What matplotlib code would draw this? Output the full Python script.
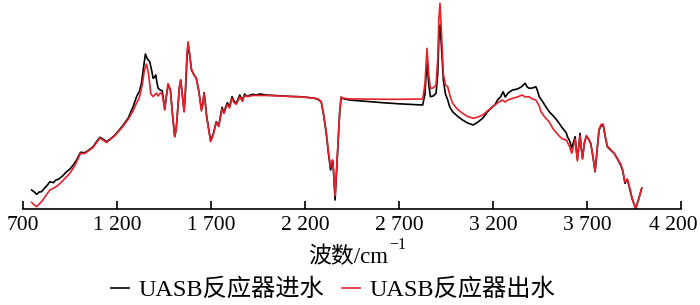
"""
UASB 반응기 진수/출수 FTIR 스펙트럼 재현.
출력: out.png (700x305)
"""

import matplotlib
matplotlib.use("Agg")
import matplotlib.pyplot as plt
import matplotlib.transforms as mtransforms
from matplotlib.ticker import FuncFormatter

plt.rcParams["font.family"] = ["Liberation Serif", "DejaVu Serif", "Noto Sans CJK SC"]

# 진수 (black)
in_wave = [
    746, 760, 773, 786, 799, 815, 830, 843, 861, 875, 888, 910, 932, 950, 967, 985,
    1006, 1029, 1050, 1073, 1090, 1109, 1125, 1144, 1165, 1189, 1225, 1259, 1285, 1304,
    1320, 1330, 1340, 1351, 1362, 1374, 1385, 1392, 1400, 1406, 1413, 1419, 1430, 1440,
    1447, 1454, 1462, 1472, 1478, 1484, 1495, 1507, 1515, 1525, 1532, 1539, 1547, 1557,
    1565, 1572, 1578, 1586, 1596, 1610, 1622, 1635, 1649, 1656, 1663, 1669, 1675, 1686,
    1698, 1712, 1728, 1741, 1752, 1759, 1769, 1778, 1787, 1799, 1806, 1812, 1822, 1835,
    1844, 1853, 1860, 1867, 1873, 1879, 1888, 1897, 1910, 1923, 1940, 1960, 1994, 2040,
    2083, 2130, 2171, 2220, 2251, 2270, 2286, 2298, 2313, 2325, 2336, 2342, 2348, 2354,
    2360, 2366, 2375, 2384, 2392, 2400, 2437, 2500, 2560, 2613, 2700, 2780, 2826, 2838,
    2849, 2858, 2867, 2882, 2897, 2906, 2912, 2918, 2925, 2936, 2947, 2959, 2970, 2985,
    3010, 3038, 3065, 3095, 3120, 3145, 3170, 3198, 3210, 3224, 3240, 3254, 3265, 3280,
    3304, 3330, 3350, 3371, 3382, 3392, 3410, 3428, 3437, 3446, 3465, 3481, 3500, 3516,
    3535, 3552, 3565, 3578, 3590, 3596, 3608, 3619, 3628, 3637, 3643, 3649, 3656, 3663,
    3669, 3676, 3686, 3697, 3708, 3720, 3732, 3743, 3752, 3764, 3775, 3786, 3797, 3808,
    3825, 3844, 3862, 3879, 3890, 3902, 3908, 3915, 3925, 3940, 3959, 3975, 3991,
]
in_val = [
    19, 17, 14.7, 17, 17.3, 21, 24, 27.3, 26.3, 29, 29.7, 33, 37.3, 40, 44, 49,
    56.7, 56.3, 59, 62.3, 67, 71.7, 70, 67.3, 70, 74, 82, 90.7, 102, 112.3,
    118, 125.7, 140, 155, 150, 147.3, 138, 130.7, 132, 134, 126, 120.7, 119, 118.3,
    110, 99.7, 112, 125, 122, 119, 95, 72.3, 80, 105, 122, 129, 115, 97.3,
    120, 150, 164, 155, 139, 134, 130.7, 118, 99.7, 105, 116.3, 108, 95.7, 82,
    68.3, 75, 87.3, 83, 95, 101.7, 96.3, 102, 106.3, 102.3, 108, 112.3, 108, 105.7,
    110, 114, 111, 108.3, 112, 115, 113, 113, 114, 114.7, 114, 115, 114, 113.5,
    113, 112.5, 112.3, 111.5, 110.7, 109.5, 107.3, 95, 75.7, 55, 39, 45, 47.3, 30,
    9, 30, 62.3, 95, 111.7, 110.5, 109, 108, 107, 106.3, 105.2, 104.5, 104, 115,
    149, 125, 112.3, 113, 115.7, 135, 170, 184, 165, 129, 115, 109, 102, 97.3,
    93, 89, 86, 84, 87, 90.7, 97, 102.3, 104, 109, 112, 117.3, 112, 116,
    119, 120, 122, 125.7, 122, 120.7, 121, 122.3, 118, 112.3, 107, 102.3, 97, 94,
    90, 85.7, 82, 79, 76, 72.3, 68, 60.7, 67, 72.3, 60, 49.7, 63, 75.7,
    62, 50.7, 66, 73, 70, 65.7, 52, 37.3, 55, 79, 83, 84, 72, 62.3,
    59, 55.7, 50, 44, 38, 25.7, 28, 29, 22, 10, 0.7, 10, 20.7,
]

# 출수 (red)
out_wave = [
    746, 760, 773, 786, 799, 820, 843, 865, 888, 910, 932, 950, 967, 985, 1006, 1029,
    1050, 1073, 1090, 1109, 1125, 1144, 1165, 1189, 1225, 1259, 1285, 1304, 1320, 1335,
    1345, 1357, 1368, 1380, 1392, 1400, 1410, 1419, 1430, 1440, 1447, 1454, 1462, 1472,
    1478, 1484, 1495, 1507, 1515, 1525, 1532, 1539, 1547, 1557, 1565, 1572, 1578, 1586,
    1596, 1610, 1622, 1635, 1649, 1656, 1663, 1669, 1675, 1686, 1698, 1712, 1728, 1741,
    1752, 1759, 1769, 1778, 1787, 1799, 1806, 1812, 1822, 1835, 1844, 1853, 1860, 1867,
    1873, 1879, 1888, 1897, 1923, 1994, 2083, 2171, 2251, 2270, 2286, 2298, 2313, 2325,
    2336, 2342, 2348, 2354, 2360, 2366, 2375, 2384, 2392, 2400, 2437, 2500, 2613, 2700,
    2826, 2838, 2849, 2858, 2867, 2882, 2897, 2906, 2912, 2918, 2925, 2936, 2947, 2959,
    2970, 2985, 3010, 3038, 3065, 3095, 3120, 3145, 3170, 3198, 3224, 3249, 3265, 3280,
    3304, 3330, 3355, 3371, 3392, 3410, 3428, 3446, 3455, 3475, 3498, 3520, 3552, 3570,
    3590, 3608, 3619, 3628, 3637, 3643, 3649, 3656, 3663, 3669, 3676, 3686, 3697, 3708,
    3720, 3732, 3743, 3752, 3764, 3775, 3786, 3797, 3808, 3825, 3844, 3862, 3879, 3890,
    3902, 3915, 3925, 3940, 3959, 3975, 3991,
]
out_val = [
    6.7, 4, 2.3, 5, 7.3, 13, 19, 21, 24, 28, 32.3, 36, 40.7, 47, 55.7, 55.5,
    58.5, 61.5, 66, 71, 69, 66.5, 69.5, 73.5, 81, 89.5, 98, 106, 112, 125,
    138, 145, 135, 115, 112.3, 114, 116, 113, 116, 115, 107, 99, 112, 125,
    122, 119, 95, 72.3, 80, 105, 122, 129, 115, 97.3, 125, 155, 167.3, 156,
    140, 134, 130.5, 118, 98, 104, 115.5, 107, 94, 81, 67.3, 74, 86.5, 82.5,
    93, 100, 95.5, 100.5, 104.5, 101, 106.5, 110.3, 106.5, 104.7, 108.5, 112, 110, 107.5,
    111, 113.5, 112.5, 112.5, 113.5, 113.5, 112.8, 112.2, 110.8, 110, 107.5, 96, 77, 57,
    42, 48, 49, 33, 13, 33, 64, 96, 112, 111, 110, 110, 109.7, 109.7,
    110, 125, 160.7, 135, 120.7, 121, 124, 150, 190, 205.7, 180, 135, 124, 122.3,
    114, 105.7, 100, 95.7, 92.5, 90.7, 92, 94, 98, 102.3, 106, 109, 107, 109,
    110.7, 112, 114, 112, 112.3, 110, 109, 103, 97.3, 92, 87.3, 80, 73, 70,
    69, 62, 55.7, 63, 70, 58, 48, 62, 73.5, 61, 50, 66, 73.5, 70,
    65, 52, 38, 56, 80, 84.5, 85, 73, 63, 59.5, 56, 50.5, 45, 39,
    27, 30, 23, 11, 0, 10, 21,
]

x_ticks = [700, 1200, 1700, 2200, 2700, 3200, 3700, 4200]


def thousands(v, pos):
    return f"{int(v):,}".replace(",", " ")


fig = plt.figure(figsize=(7.0, 3.05), dpi=100)
ax = fig.add_axes([23 / 700, 96 / 305, 658 / 700, 209 / 305])

ax.plot(in_wave, in_val, color="black", lw=1.2, label="UASB反应器进水")
ax.plot(out_wave, out_val, color="#e8212b", lw=1.2, label="UASB反应器出水")

ax.set_xlim(700, 4200)
ax.set_ylim(0, 209)
ax.set_xticks(x_ticks)
ax.xaxis.set_major_formatter(FuncFormatter(thousands))
ax.tick_params(axis="x", direction="in", length=6, width=1.2, labelsize=15.5, pad=5)
ax.set_yticks([])
for side in ("left", "right", "top"):
    ax.spines[side].set_visible(False)
ax.spines["bottom"].set_linewidth(1.2)

# 마지막 눈금 라벨은 오른쪽 끝에서 잘리지 않게 약간 왼쪽으로
fig.canvas.draw()
last = ax.get_xticklabels()[-1]
last.set_transform(last.get_transform()
                   + mtransforms.ScaledTranslation(-8 / 100, 0, fig.dpi_scale_trans))

# x축 제목: 본문 + 위첨자 따로
fig.text(388 / 700, 1 - 263 / 305, "波数/cm", fontsize=16.5, ha="right", va="baseline")
fig.text(389 / 700, 1 - 249 / 305, "−1", fontsize=11.5, ha="left", va="baseline")

fig.legend(loc="center", bbox_to_anchor=(0.476, 0.049), ncol=2, frameon=False,
           fontsize=17.5, handlelength=0.75, handletextpad=0.4, columnspacing=0.7,
           borderpad=0.2)

fig.savefig("out.png", dpi=100)
